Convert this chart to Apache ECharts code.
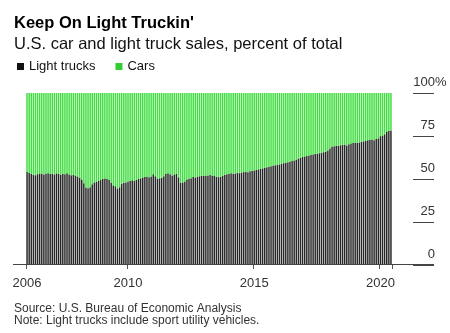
<!DOCTYPE html>
<html><head><meta charset="utf-8">
<script src="https://cdn.jsdelivr.net/npm/echarts@6/dist/echarts.min.js"></script>
<style>html,body{margin:0;padding:0;background:#fff}#c{width:450px;height:333px}</style>
</head><body><div id="c"></div>
<script>
// Light trucks share of US car+light truck sales (%), monthly Jan 2006 - Jun 2020
const lightTrucks = [
  54.0, 53.5, 53.0, 52.5, 52.2, 52.8, 53.2, 53.0, 52.6, 53.2, 53.4, 53.0,
  53.0, 52.7, 53.3, 53.0, 52.5, 53.1, 52.8, 53.4, 52.6, 52.2, 52.4, 52.0,
  51.5, 50.8, 49.5, 47.5, 45.0, 44.6, 45.2, 47.0, 48.0, 48.4, 49.0, 49.4,
  50.0, 50.3, 50.1, 49.6, 48.0, 46.3, 45.8, 44.4, 45.2, 47.3, 47.8, 48.0,
  48.5, 48.9, 49.3, 48.8, 49.5, 50.0, 50.4, 50.8, 51.1, 51.3, 51.0, 51.5,
  52.7, 51.6, 50.2, 50.4, 50.8, 51.6, 53.1, 53.4, 52.7, 52.1, 52.6, 53.1,
  51.0, 47.8, 48.0, 48.6, 49.7, 50.1, 50.5, 51.1, 50.9, 51.3, 51.6, 51.8,
  51.8, 52.1, 51.9, 52.4, 51.7, 52.0, 51.4, 51.1, 51.3, 52.0, 52.4, 52.8,
  53.1, 53.3, 53.0, 53.2, 53.6, 53.4, 53.8, 54.0, 54.2, 53.9, 54.5, 54.8,
  55.0, 55.3, 55.6, 55.9, 56.2, 56.6, 56.9, 57.1, 57.4, 57.8, 58.0, 58.3,
  58.5, 58.8, 59.2, 59.4, 59.7, 60.0, 60.4, 60.8, 61.3, 61.9, 62.4, 62.8,
  63.1, 63.3, 63.6, 63.9, 64.2, 64.5, 64.7, 65.0, 65.3, 65.6, 65.8, 66.5,
  67.8, 68.9, 69.0, 69.3, 69.4, 69.6, 69.9, 70.0, 69.5, 70.2, 70.6, 70.9,
  71.0, 71.1, 71.3, 71.6, 71.9, 72.1, 72.5, 72.8, 73.0, 72.6, 73.2, 73.6,
  74.9, 75.3, 76.0, 77.6, 78.0, 78.2
];
// Cars share (%), same months
const cars = [
  46.0, 46.5, 47.0, 47.5, 47.8, 47.2, 46.8, 47.0, 47.4, 46.8, 46.6, 47.0,
  47.0, 47.3, 46.7, 47.0, 47.5, 46.9, 47.2, 46.6, 47.4, 47.8, 47.6, 48.0,
  48.5, 49.2, 50.5, 52.5, 55.0, 55.4, 54.8, 53.0, 52.0, 51.6, 51.0, 50.6,
  50.0, 49.7, 49.9, 50.4, 52.0, 53.7, 54.2, 55.6, 54.8, 52.7, 52.2, 52.0,
  51.5, 51.1, 50.7, 51.2, 50.5, 50.0, 49.6, 49.2, 48.9, 48.7, 49.0, 48.5,
  47.3, 48.4, 49.8, 49.6, 49.2, 48.4, 46.9, 46.6, 47.3, 47.9, 47.4, 46.9,
  49.0, 52.2, 52.0, 51.4, 50.3, 49.9, 49.5, 48.9, 49.1, 48.7, 48.4, 48.2,
  48.2, 47.9, 48.1, 47.6, 48.3, 48.0, 48.6, 48.9, 48.7, 48.0, 47.6, 47.2,
  46.9, 46.7, 47.0, 46.8, 46.4, 46.6, 46.2, 46.0, 45.8, 46.1, 45.5, 45.2,
  45.0, 44.7, 44.4, 44.1, 43.8, 43.4, 43.1, 42.9, 42.6, 42.2, 42.0, 41.7,
  41.5, 41.2, 40.8, 40.6, 40.3, 40.0, 39.6, 39.2, 38.7, 38.1, 37.6, 37.2,
  36.9, 36.7, 36.4, 36.1, 35.8, 35.5, 35.3, 35.0, 34.7, 34.4, 34.2, 33.5,
  32.2, 31.1, 31.0, 30.7, 30.6, 30.4, 30.1, 30.0, 30.5, 29.8, 29.4, 29.1,
  29.0, 28.9, 28.7, 28.4, 28.1, 27.9, 27.5, 27.2, 27.0, 27.4, 26.8, 26.4,
  25.1, 24.7, 24.0, 22.4, 22.0, 21.8
];
const startYear = 2006;
const categories = lightTrucks.map((_, i) =>
  (startYear + Math.floor(i / 12)) + '-' + String(i % 12 + 1).padStart(2, '0'));
const tickYears = ['2006', '2010', '2015', '2020'];
const yTicks = [0, 25, 50, 75, 100];
const seriesNames = ['Light trucks', 'Cars'];

const FONT = '"Liberation Sans", Arial, sans-serif';
const tickIdx = new Set(tickYears.map(y => categories.indexOf(y + '-01')));
const showTick = (i) => tickIdx.has(i);

const chart = echarts.init(document.getElementById('c'), null, { renderer: 'canvas' });
chart.setOption({
  animation: false,
  textStyle: { fontFamily: FONT },
  title: [
    { text: "Keep On Light Truckin'", left: 9, top: 10,
      textStyle: { fontSize: 16.5, fontWeight: 'bold', color: '#000', fontFamily: FONT } },
    { text: 'U.S. car and light truck sales, percent of total', left: 9, top: 31,
      textStyle: { fontSize: 16.5, fontWeight: 'normal', color: '#111', fontFamily: FONT } },
    { text: 'Source: U.S. Bureau of Economic Analysis\nNote: Light trucks include sport utility vehicles.',
      left: 9, top: 298,
      textStyle: { fontSize: 12, lineHeight: 11.5, fontWeight: 'normal', color: '#333', fontFamily: FONT } }
  ],
  legend: {
    left: 12, top: 55, icon: 'rect', itemWidth: 7, itemHeight: 7, itemGap: 20,
    selectedMode: false,
    textStyle: { fontSize: 13, color: '#111', fontFamily: FONT },
    data: [
      { name: seriesNames[0], itemStyle: { color: '#111111' } },
      { name: seriesNames[1], itemStyle: { color: '#33cc33' } }
    ]
  },
  grid: { left: 26, right: 58, top: 93, bottom: 68, containLabel: false },
  xAxis: {
    type: 'category', data: categories,
    axisLine: { show: false },
    axisTick: { show: true, interval: showTick, length: 4, lineStyle: { color: '#555' } },
    axisLabel: { interval: showTick, formatter: v => v.slice(0, 4), fontSize: 13, color: '#333', margin: 12, fontFamily: FONT }
  },
  yAxis: {
    type: 'value', position: 'right', offset: 21, min: 0, max: 100, interval: 25,
    splitLine: { show: false },
    axisLine: { show: false },
    axisTick: { show: true, length: 21, lineStyle: { color: '#444' } },
    axisLabel: {
      align: 'right', margin: 22, verticalAlign: 'bottom', padding: [0, 0, 4, 0],
      formatter: v => v === 100 ? '{n|100}{p|%}' : '{n|' + v + '}',
      rich: {
        n: { fontSize: 13, color: '#333', fontFamily: FONT, align: 'left' },
        p: { fontSize: 13, color: '#333', fontFamily: FONT, align: 'left', width: 0 }
      }
    }
  },
  graphic: [
    { type: 'line', z: 100, shape: { x1: 13, y1: 264.5, x2: 434, y2: 264.5 },
      style: { stroke: '#444', lineWidth: 1 } }
  ],
  series: [
    { name: seriesNames[0], type: 'bar', stack: 'total', data: lightTrucks,
      barCategoryGap: '30%', itemStyle: { color: '#262626' }, silent: true },
    { name: seriesNames[1], type: 'bar', stack: 'total', data: cars,
      barCategoryGap: '30%', itemStyle: { color: '#3fdd3f' }, silent: true }
  ]
});
</script>
</body></html>
